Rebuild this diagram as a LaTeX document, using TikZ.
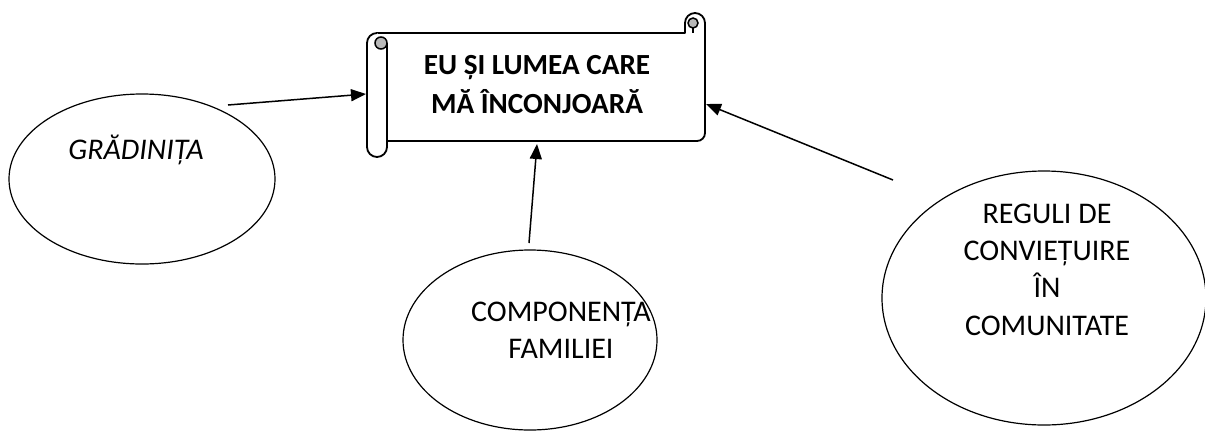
\documentclass[tikz,border=0pt]{standalone}
\usepackage{fontspec}
\setmainfont{Carlito}
\usetikzlibrary{arrows.meta,shapes.geometric}
\begin{document}
\begin{tikzpicture}[x=1pt,y=-1pt,
  bubble/.style={draw, ellipse, line width=1.2pt, inner sep=0pt},
  lbl/.style={align=center, inner sep=0pt, anchor=base},
  conn/.style={line width=1.5pt, -{Triangle[length=15pt,width=12pt]}},
  scrollline/.style={line width=1.8pt, line join=round},
  curl/.style={line width=1.5pt, fill=gray!55}]
\useasboundingbox (0,0) rectangle (1205,440);

% scroll (y axis points down, so angles are mirrored)
\draw[scrollline, fill=white] (377,33) -- (685,33) -- (685,23) arc[start angle=180, end angle=360, radius=10]
  -- (705,133) arc[start angle=0, end angle=90, radius=8] -- (387,141);
\draw[scrollline, fill=white] (377,33) arc[start angle=270, end angle=180, radius=10] -- (367,147)
  arc[start angle=180, end angle=0, radius=10] -- (387,43);
\draw[curl] (381,43) circle[radius=6];
\draw[curl] (693,23) circle[radius=5];
\draw[line width=1.5pt] (693,28) -- (693,33);
\node[lbl, font=\fontsize{29.2}{38.7}\selectfont\bfseries] (title) at (537,113) {EU ȘI LUMEA CARE\\MĂ ÎNCONJOARĂ};

% ellipses
\node[bubble, minimum width=266pt, minimum height=170pt] (gr) at (142,179) {};
\node[lbl, font=\fontsize{30}{37}\selectfont\itshape] (grt) at (136,159) {GRĂDINIȚA};

\node[bubble, minimum width=254pt, minimum height=180pt] (cf) at (530,340) {};
\node[lbl, font=\fontsize{30}{36.7}\selectfont] (cft) at (561,358.3) {COMPONENȚA\\FAMILIEI};

\node[bubble, minimum width=324pt, minimum height=254pt] (rc) at (1044,298) {};
\node[lbl, font=\fontsize{30}{37.3}\selectfont] (rct) at (1047,335) {REGULI DE\\CONVIEȚUIRE\\ÎN\\COMUNITATE};

% connectors
\coordinate (a1s) at (228,105);
\coordinate (a1e) at (366,94);
\coordinate (a2s) at (529,243);
\coordinate (a2e) at (537,144);
\coordinate (a3s) at (893,180);
\coordinate (a3e) at (706,104);
\draw[conn] (a1s) -- (a1e);
\draw[conn] (a2s) -- (a2e);
\draw[conn] (a3s) -- (a3e);
\end{tikzpicture}
\end{document}
